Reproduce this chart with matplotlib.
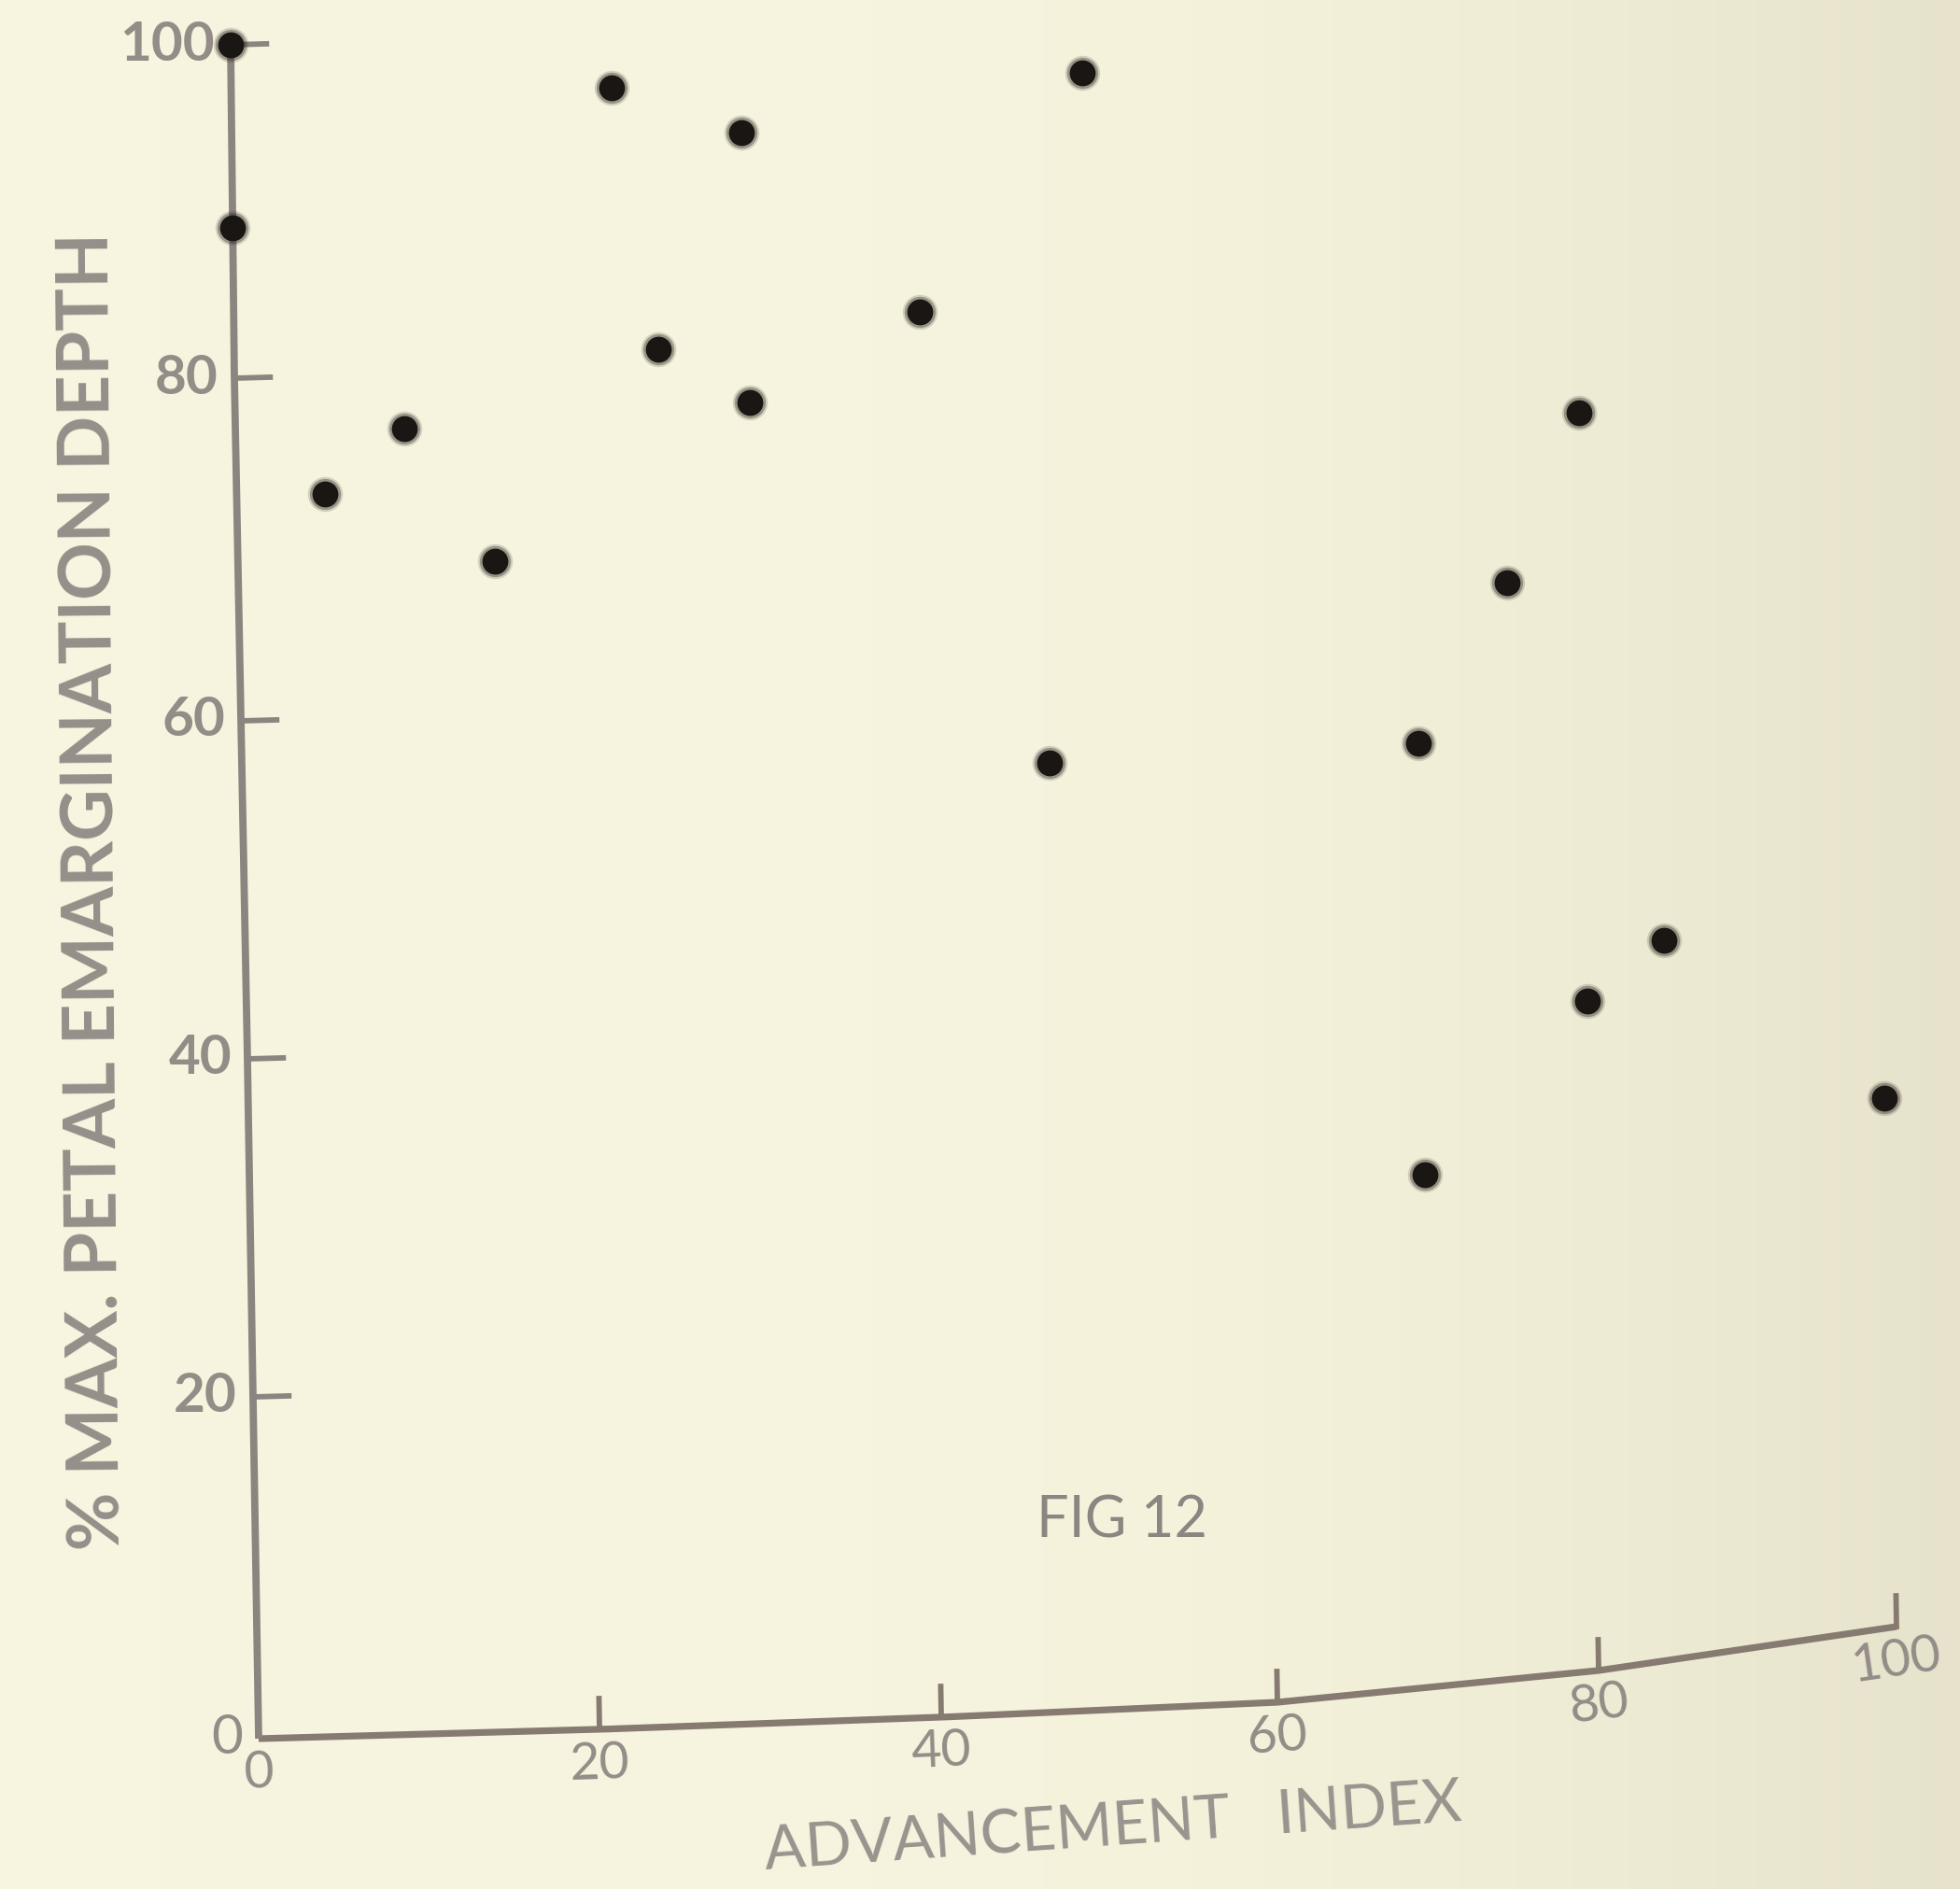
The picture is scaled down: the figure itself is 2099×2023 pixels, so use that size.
import numpy as np
import matplotlib
matplotlib.use("Agg")
import matplotlib.pyplot as plt
import matplotlib.transforms as mtransforms
from matplotlib.colors import LinearSegmentedColormap

# Advancement index (x) and % of maximum petal emargination depth (y)
advancement_index = [0, 0, 5.2, 9.9, 15.1, 22.3, 24.9, 29.9, 30.2, 40.2,
                     50.0, 47.4, 69.8, 69.7, 75.5, 80.2, 80.0, 85.2, 99.8]
emargination_pct = [100, 89, 73.1, 76.8, 68.9, 96.8, 81.0, 93.8, 77.7, 82.7,
                    96.6, 55.9, 55.6, 30.1, 64.5, 74.0, 39.4, 42.3, 31.1]

x_ticks = [0, 20, 40, 60, 80, 100]
y_ticks = [0, 20, 40, 60, 80, 100]
x_tick_labels = ["0", "20", "40", "60", "80", "100"]
y_tick_labels = ["0", "20", "40", "60", "80", "100"]

x_label = "ADVANCEMENT   INDEX"
y_label = "% MAX. PETAL EMARGINATION DEPTH"
caption = "FIG 12"

# The hand-drawn axes are not square: each axis is traced through its
# tick positions, in page pixels measured from the top-left corner.
AXIS_STOPS = [0, 20, 40, 60, 80, 100]
X_AXIS_PAGE_X = [277, 642, 1008, 1368, 1712, 2031]
X_AXIS_PAGE_Y = [1862, 1852, 1839, 1823, 1789, 1742]
Y_AXIS_PAGE_X = [277, 271, 265, 258, 251, 247]
Y_AXIS_PAGE_Y = [1862, 1496, 1134, 772, 405, 48]

W, H = 2099, 2023


class PageTransform(mtransforms.Transform):
    """Maps (index, percent) onto the skewed hand-drawn axes of the page."""
    input_dims = 2
    output_dims = 2
    is_separable = False
    has_inverse = False

    def transform_non_affine(self, values):
        v = np.asarray(values, dtype=float).reshape(-1, 2)
        x, y = v[:, 0], v[:, 1]
        px = (np.interp(x, AXIS_STOPS, X_AXIS_PAGE_X)
              + np.interp(y, AXIS_STOPS, Y_AXIS_PAGE_X) - X_AXIS_PAGE_X[0])
        py = (np.interp(x, AXIS_STOPS, X_AXIS_PAGE_Y)
              + np.interp(y, AXIS_STOPS, Y_AXIS_PAGE_Y) - Y_AXIS_PAGE_Y[0])
        return np.column_stack([px, py])


fig = plt.figure(figsize=(W / 100, H / 100), dpi=100)
fig.patch.set_facecolor("#f6f3dd")
ax = fig.add_axes([0, 0, 1, 1])
ax.axis("off")

# paper tone, slightly darker towards the right edge
paper = LinearSegmentedColormap.from_list(
    "paper", ["#f7f5e0", "#f5f2dc", "#eeebd4", "#e6e2cb"])
grad = np.tile(np.linspace(0, 1, 256) ** 2.2, (16, 1))
ax.imshow(grad, extent=(0, W, H, 0), aspect="auto", cmap=paper, zorder=0,
          interpolation="bicubic")
ax.set_xlim(0, W)
ax.set_ylim(H, 0)

page = PageTransform() + ax.transData

axis_color = "#8c847f"
label_color = "#938c87"
font = ["Lato", "DejaVu Sans"]

# axis lines
t = np.linspace(0, 100, 201)
ax.plot(t, np.zeros_like(t), color="#877a70", lw=5.2, transform=page,
        solid_capstyle="butt", zorder=2)
ax.plot(np.zeros_like(t), t, color=axis_color, lw=5.6, transform=page,
        solid_capstyle="butt", zorder=2)

# tick marks (upward on x, inward on y)
for xt in x_ticks[1:]:
    ax.plot([xt, xt], [0, 1.8], color="#877a70", lw=4.2, transform=page,
            zorder=2)
for yt in y_ticks[1:]:
    ax.plot([0, 2.1], [yt, yt], color=axis_color, lw=4.2, transform=page,
            zorder=2)


def local_angle(x):
    p = page.transform(np.array([[x - 1.0, 0.0], [x + 1.0, 0.0]]))
    d = p[1] - p[0]
    return np.degrees(np.arctan2(d[1], d[0]))


# tick labels
for xt, lab in zip(x_ticks, x_tick_labels):
    off = mtransforms.ScaledTranslation(0, -0.37, fig.dpi_scale_trans)
    ax.text(xt, 0, lab, transform=page + off, ha="center", va="center",
            rotation=local_angle(xt), fontsize=40, color=label_color,
            family=font, zorder=3)
for yt, lab in zip(y_ticks, y_tick_labels):
    off = mtransforms.ScaledTranslation(-0.17, 0, fig.dpi_scale_trans)
    weight = "normal" if yt == 0 else "bold"
    ax.text(0, yt, lab, transform=page + off, ha="right", va="center",
            fontsize=42, fontweight=weight, color=label_color,
            family=font, zorder=3)

# data points: soft ink edge plus dark core
ax.plot(advancement_index, emargination_pct, "o", ms=27, color="#3a3430",
        alpha=0.18, mec="none", transform=page, zorder=4)
ax.plot(advancement_index, emargination_pct, "o", ms=24, color="#2a2420",
        alpha=0.35, mec="none", transform=page, zorder=4)
ax.plot(advancement_index, emargination_pct, "o", ms=20, color="#1a1613",
        mec="none", transform=page, zorder=5)

# titles and caption
fig.text(1192 / W, 1 - 1958 / H, x_label, ha="center", va="center",
         rotation=4, fontsize=47, color="#9a938e", family=font)
fig.text(100 / W, 1 - 955 / H, y_label, ha="center", va="center",
         rotation=90.5, fontsize=55, fontweight="bold", color="#958e89",
         family=font)
fig.text(1201 / W, 1 - 1629 / H, caption, ha="center", va="center",
         fontsize=44, color="#8c8581", family=font)

fig.savefig("out.png", dpi=100, facecolor=fig.get_facecolor())
